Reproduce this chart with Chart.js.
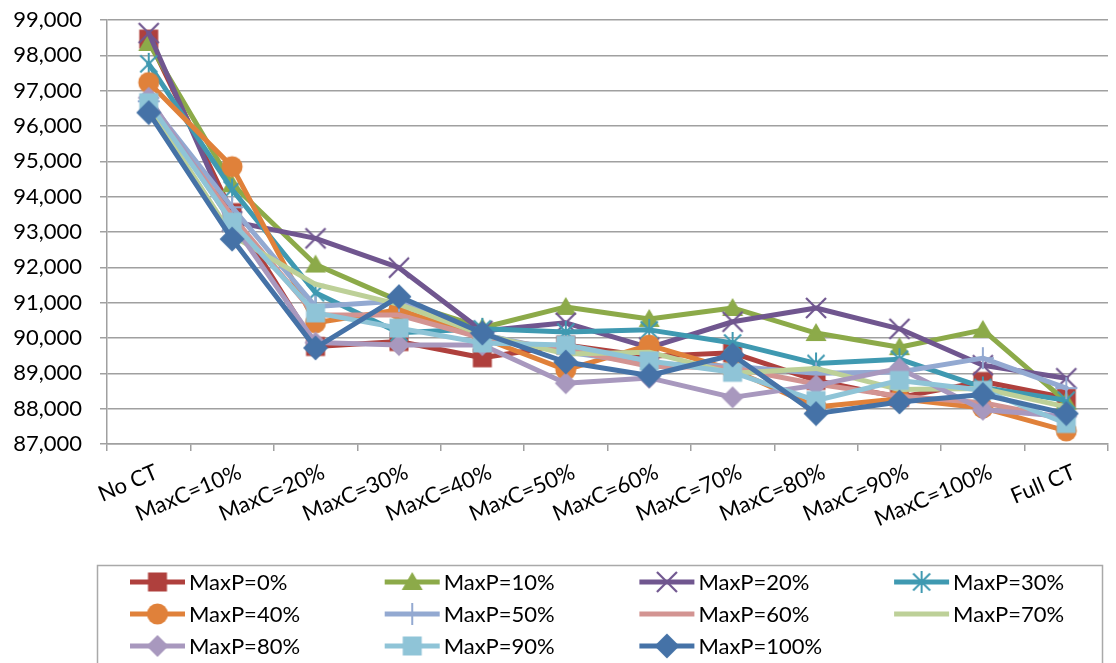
<!DOCTYPE html>
<html>
<head>
<meta charset="utf-8">
<title>Objective value by MaxC and MaxP</title>
<script src="https://cdn.jsdelivr.net/npm/chart.js@4/dist/chart.umd.min.js"></script>
<style>
  html, body { margin: 0; padding: 0; background: #ffffff; overflow: hidden; }
  #chart { display: block; width: 1124px; height: 663px; }
</style>
</head>
<body>
<canvas id="chart" width="1124" height="663"></canvas>
<script>
// ---- data ----
const categories = ['No CT', 'MaxC=10%', 'MaxC=20%', 'MaxC=30%', 'MaxC=40%', 'MaxC=50%',
                    'MaxC=60%', 'MaxC=70%', 'MaxC=80%', 'MaxC=90%', 'MaxC=100%', 'Full CT'];
const seriesNames = ['MaxP=0%', 'MaxP=10%', 'MaxP=20%', 'MaxP=30%', 'MaxP=40%', 'MaxP=50%',
                     'MaxP=60%', 'MaxP=70%', 'MaxP=80%', 'MaxP=90%', 'MaxP=100%'];

const maxP0   = [98460, 93550, 89760, 89900, 89440, 89800, 89480, 89580, 88800, 88320, 88770, 88300];
const maxP10  = [98350, 94350, 92080, 91050, 90290, 90880, 90540, 90850, 90140, 89740, 90230, 88200];
const maxP20  = [98630, 93300, 92820, 91990, 90200, 90430, 89730, 90460, 90850, 90260, 89230, 88860];
const maxP30  = [97760, 94200, 91280, 90150, 90260, 90170, 90230, 89860, 89280, 89400, 88600, 88240];
const maxP40  = [97230, 94850, 90430, 90800, 90000, 89100, 89800, 89100, 88050, 88280, 88020, 87370];
const maxP50  = [96700, 93700, 90890, 91050, 90100, 89600, 89280, 89200, 89000, 89040, 89430, 88580];
const maxP60  = [96600, 93450, 90650, 90650, 90000, 89680, 89200, 89150, 88700, 88350, 88170, 87700];
const maxP70  = [96550, 92900, 91520, 90950, 90100, 89550, 89600, 89000, 89140, 88540, 88570, 88050];
const maxP80  = [96800, 93250, 89870, 89800, 89800, 88720, 88870, 88320, 88660, 89140, 87970, 87780];
const maxP90  = [96660, 93280, 90710, 90280, 89860, 89800, 89350, 89030, 88230, 88800, 88520, 87580];
const maxP100 = [96380, 92800, 89720, 91170, 90140, 89320, 88940, 89520, 87860, 88190, 88400, 87860];

const seriesValues = [maxP0, maxP10, maxP20, maxP30, maxP40, maxP50,
                      maxP60, maxP70, maxP80, maxP90, maxP100];

const yMin = 87000;
const yMax = 99000;
const yStep = 1000;

// ---- styles ----
const seriesColors = ['#AF403D', '#8CAA49', '#70568F', '#3F99B1', '#E0813A', '#93A9D1',
                      '#D39492', '#BDD098', '#A898BE', '#8FC4D7', '#4572A7'];
const seriesMarkers = ['square', 'triangle', 'x', 'asterisk', 'circle', 'plus',
                       'none', 'none', 'diamond', 'square', 'bigDiamond'];

// marker glyphs drawn once into small canvases, used both on the lines and in the legend
function makeMarker(kind, color) {
  if (kind === 'none') return null;
  const s = 26;
  const c = document.createElement('canvas');
  c.width = s; c.height = s;
  const g = c.getContext('2d');
  const m = s / 2;
  g.fillStyle = color;
  g.strokeStyle = color;
  g.lineCap = 'butt';
  switch (kind) {
    case 'square':
      g.fillRect(m - 9.5, m - 9.5, 19, 19);
      break;
    case 'triangle':
      g.beginPath();
      g.moveTo(m, m - 10); g.lineTo(m + 10.5, m + 8); g.lineTo(m - 10.5, m + 8);
      g.closePath(); g.fill();
      break;
    case 'circle':
      g.beginPath(); g.arc(m, m, 10.5, 0, Math.PI * 2); g.fill();
      break;
    case 'diamond':
      g.beginPath();
      g.moveTo(m, m - 11); g.lineTo(m + 11, m); g.lineTo(m, m + 11); g.lineTo(m - 11, m);
      g.closePath(); g.fill();
      break;
    case 'bigDiamond':
      g.beginPath();
      g.moveTo(m, m - 12.5); g.lineTo(m + 12.5, m); g.lineTo(m, m + 12.5); g.lineTo(m - 12.5, m);
      g.closePath(); g.fill();
      break;
    case 'x':
      g.lineWidth = 2.2;
      g.beginPath();
      g.moveTo(m - 10, m - 10); g.lineTo(m + 10, m + 10);
      g.moveTo(m + 10, m - 10); g.lineTo(m - 10, m + 10);
      g.stroke();
      break;
    case 'asterisk':
      g.lineWidth = 2;
      g.beginPath();
      g.moveTo(m - 8.5, m - 8.5); g.lineTo(m + 8.5, m + 8.5);
      g.moveTo(m + 8.5, m - 8.5); g.lineTo(m - 8.5, m + 8.5);
      g.moveTo(m, m - 11); g.lineTo(m, m + 11);
      g.stroke();
      break;
    case 'plus':
      g.lineWidth = 2;
      g.beginPath();
      g.moveTo(m, m - 11); g.lineTo(m, m + 11);
      g.moveTo(m - 11, m); g.lineTo(m + 11, m);
      g.stroke();
      break;
  }
  return c;
}

const datasets = seriesNames.map((name, i) => {
  const marker = makeMarker(seriesMarkers[i], seriesColors[i]);
  return {
    label: name,
    data: seriesValues[i],
    borderColor: seriesColors[i],
    backgroundColor: seriesColors[i],
    borderWidth: 5,
    borderJoinStyle: 'round',
    borderCapStyle: 'round',
    tension: 0,
    fill: false,
    pointStyle: marker || false,
    pointRadius: marker ? 11 : 0,
    pointHoverRadius: marker ? 11 : 0,
    order: seriesNames.length - i
  };
});

// legend laid out as a 4-column grid inside a framed box below the plot
const gridLegend = {
  id: 'gridLegend',
  afterDraw(chart) {
    const ctx = chart.ctx;
    ctx.save();
    ctx.strokeStyle = '#A9A9A9';
    ctx.lineWidth = 1.5;
    ctx.strokeRect(97.5, 565.5, 1005, 120);
    const cols = 4;
    chart.data.datasets.forEach((ds, i) => {
      const col = i % cols;
      const row = Math.floor(i / cols);
      const x0 = 130 + col * 254.7;
      const y = 582 + row * 32;
      ctx.strokeStyle = ds.borderColor;
      ctx.lineWidth = 5;
      ctx.lineCap = 'butt';
      ctx.beginPath();
      ctx.moveTo(x0, y);
      ctx.lineTo(x0 + 55, y);
      ctx.stroke();
      if (ds.pointStyle) {
        const img = ds.pointStyle;
        ctx.drawImage(img, x0 + 27.5 - img.width / 2, y - img.height / 2);
      }
      ctx.fillStyle = '#000000';
      ctx.font = '22px Lato';
      ctx.textAlign = 'left';
      ctx.textBaseline = 'middle';
      ctx.fillText(ds.label, x0 + 59, y + 1);
    });
    ctx.restore();
  }
};

const gridColor = '#A0A0A0';

new Chart(document.getElementById('chart'), {
  type: 'line',
  data: { labels: categories, datasets },
  plugins: [gridLegend],
  options: {
    responsive: false,
    maintainAspectRatio: false,
    devicePixelRatio: 1,
    animation: false,
    events: [],
    layout: { padding: { top: 20, right: 4, bottom: 0, left: 0 } },
    font: { family: 'Lato', size: 22 },
    plugins: {
      legend: { display: false },
      tooltip: { enabled: false },
      title: { display: false }
    },
    scales: {
      x: {
        offset: true,
        grid: {
          offset: true,
          drawOnChartArea: false,
          drawTicks: true,
          tickLength: 7,
          color: gridColor,
          lineWidth: 1.5
        },
        border: { color: gridColor, width: 1.5 },
        ticks: {
          autoSkip: false,
          minRotation: 23,
          maxRotation: 23,
          padding: 8,
          labelOffset: 8,
          color: '#000000',
          font: { family: 'Lato', size: 22 }
        },
        afterFit(scale) {
          scale.height = 219;
          scale.paddingLeft = 0;
          scale.paddingRight = 0;
        }
      },
      y: {
        min: yMin,
        max: yMax,
        grid: { color: gridColor, lineWidth: 1.5, tickLength: 7 },
        border: { color: gridColor, width: 1.5 },
        ticks: {
          stepSize: yStep,
          padding: 18,
          color: '#000000',
          font: { family: 'Lato', size: 22 },
          callback: (v) => v.toLocaleString('en-US')
        },
        afterFit(scale) {
          scale.width = 107;
          scale.paddingTop = 0;
          scale.paddingBottom = 0;
        }
      }
    }
  }
});
</script>
</body>
</html>
